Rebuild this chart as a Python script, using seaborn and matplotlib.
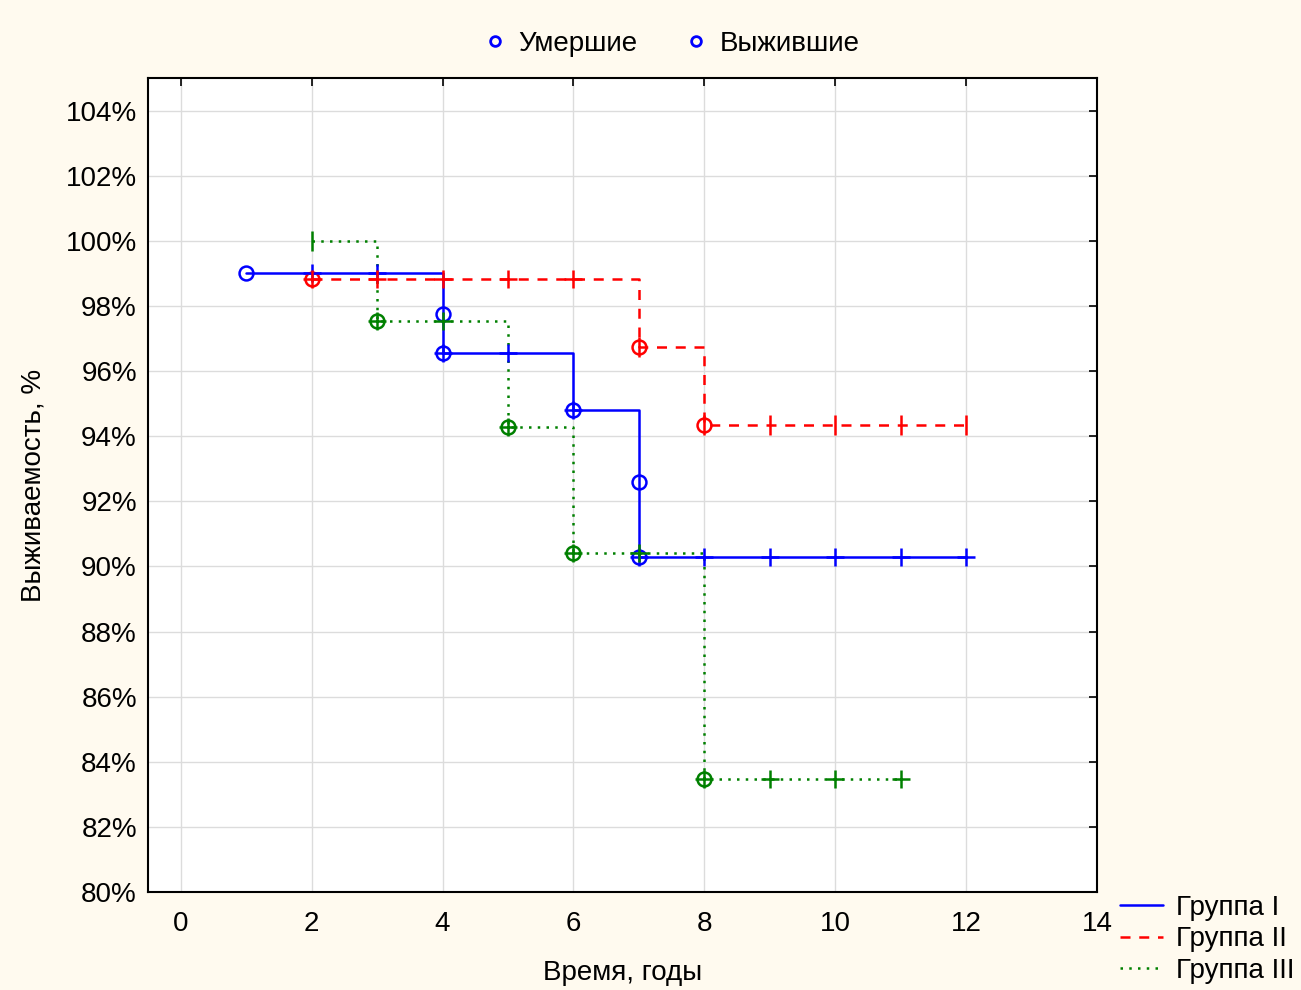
import numpy as np
import pandas as pd
import seaborn as sns
import matplotlib.pyplot as plt
from matplotlib.lines import Line2D
from matplotlib.ticker import FuncFormatter

# step curves (time, survival %)
g1_time = [1, 4, 6, 7, 12]
g1_surv = [99.0, 96.55, 94.8, 90.3, 90.3]
g2_time = [2, 7, 8, 12]
g2_surv = [98.84, 96.75, 94.35, 94.35]
g3_time = [2, 3, 5, 6, 8, 11]
g3_surv = [100.0, 97.55, 94.29, 90.42, 83.47, 83.47]

# deaths (circles)
g1_dead_t = [1, 4, 4, 6, 7, 7]
g1_dead_s = [99.0, 97.75, 96.55, 94.8, 92.6, 90.3]
g2_dead_t = [2, 7, 8]
g2_dead_s = [98.84, 96.75, 94.35]
g3_dead_t = [3, 5, 6, 8]
g3_dead_s = [97.55, 94.29, 90.42, 83.47]

# censored (+)
g1_cens_t = [2, 3, 4, 5, 6, 7, 8, 9, 10, 11, 12]
g1_cens_s = [99.0, 99.0, 96.55, 96.55, 94.8, 90.3, 90.3, 90.3, 90.3, 90.3, 90.3]
g2_cens_t = [2, 3, 4, 5, 6]
g2_cens_s = [98.84, 98.84, 98.84, 98.84, 98.84]
g2_tick_t = [7, 8, 9, 10, 11, 12]
g2_tick_s = [96.75, 94.35, 94.35, 94.35, 94.35, 94.35]
g3_cens_t = [3, 4, 5, 6, 7, 8, 9, 10, 11]
g3_cens_s = [97.55, 97.55, 94.29, 90.42, 90.42, 83.47, 83.47, 83.47, 83.47]
g3_tick_t = [2]
g3_tick_s = [100.0]

groups = ['Группа I', 'Группа II', 'Группа III']
colors = ['#0000ff', '#ff0000', '#008000']
styles = ['-', (0, (4, 3.5)), (0, (1, 2.5))]

sns.set_style('white')
plt.rcParams['font.family'] = ['Liberation Sans', 'DejaVu Sans']
plt.rcParams['text.color'] = 'black'
plt.rcParams['axes.labelcolor'] = 'black'

bg = '#fffaef'
fs = 20
fig = plt.figure(figsize=(13.01, 9.9), dpi=100, facecolor=bg)
ax = fig.add_axes([148 / 1301, 1 - 892 / 990, 949 / 1301, 814 / 990])
ax.set_facecolor('white')

curves = [(g1_time, g1_surv), (g2_time, g2_surv), (g3_time, g3_surv)]
for (t, s), name, c, ls in zip(curves, groups, colors, styles):
    df = pd.DataFrame({'t': t, 's': s})
    sns.lineplot(data=df, x='t', y='s', ax=ax, color=c, linestyle=ls, lw=1.8,
                 drawstyle='steps-post', estimator=None, sort=False, zorder=3)

dead = [(g1_dead_t, g1_dead_s), (g2_dead_t, g2_dead_s), (g3_dead_t, g3_dead_s)]
cens = [(g1_cens_t, g1_cens_s), (g2_cens_t, g2_cens_s), (g3_cens_t, g3_cens_s)]
for (t, s), c in zip(dead, colors):
    ax.plot(t, s, ls='none', marker='o', ms=10, mfc='none', mec=c, mew=1.8, zorder=4)
for (t, s), c in zip(cens, colors):
    ax.plot(t, s, ls='none', marker='+', ms=13, mec=c, mew=1.8, zorder=4)
ax.plot(g2_tick_t, g2_tick_s, ls='none', marker='|', ms=14, mec=colors[1], mew=1.8, zorder=4)
ax.plot(g3_tick_t, g3_tick_s, ls='none', marker='|', ms=14, mec=colors[2], mew=1.8, zorder=4)

ax.set_xlim(-0.5, 14)
ax.set_ylim(80, 105)
ax.set_xticks(np.arange(0, 15, 2))
ax.set_yticks(np.arange(80, 105, 2))
ax.yaxis.set_major_formatter(FuncFormatter(lambda v, p: f'{v:.0f}%'))
ax.grid(True, color='#dcdcdc', lw=1)
ax.tick_params(direction='in', top=True, right=True, length=6, width=1.2,
               labelsize=fs, colors='black')
ax.tick_params(axis='x', pad=14)
ax.tick_params(axis='y', pad=8)
for sp in ax.spines.values():
    sp.set_color('black')
    sp.set_linewidth(1.5)
ax.set_xlabel('Время, годы', fontsize=fs, labelpad=16)
ax.set_ylabel('Выживаемость, %', fontsize=fs, labelpad=14)

top_handles = [Line2D([], [], ls='none', marker='o', ms=7, mfc='none', mec='#0000ff', mew=2)
               for _ in range(2)]
fig.legend(top_handles, ['Умершие', 'Выжившие'], loc='center', ncol=2,
           bbox_to_anchor=(670 / 1301, 1 - 44 / 990), frameon=False, fontsize=fs,
           handletextpad=0.35, columnspacing=1.6, handlelength=1.0)

line_handles = [Line2D([], [], color=c, ls=ls, lw=1.8) for c, ls in zip(colors, styles)]
fig.legend(line_handles, groups, loc='lower left', bbox_to_anchor=(1120 / 1301, 6 / 990),
           frameon=False, fontsize=fs, handlelength=1.55, handletextpad=0.45,
           labelspacing=0.2, borderpad=0, borderaxespad=0)

fig.savefig('out.png', dpi=100, facecolor=bg)
